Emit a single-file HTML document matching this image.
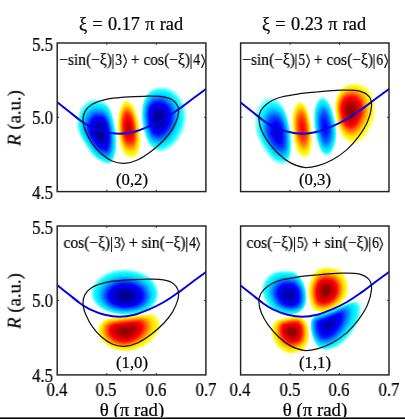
<!DOCTYPE html>
<html><head><meta charset="utf-8"><title>fig</title>
<style>
html,body{margin:0;padding:0;background:#fff;}
body{width:405px;height:419px;overflow:hidden;position:relative;font-family:"Liberation Serif",serif;color:#000;}
#fig{position:absolute;left:0;top:0;width:405px;height:419px;}
.t{position:absolute;white-space:nowrap;line-height:1;font-family:"Liberation Serif",serif;will-change:transform;-webkit-text-stroke:0.22px #000;}
.title{font-size:18.3px;word-spacing:0.7px;}
.lab{font-size:16.3px;}
.mode{font-size:16.7px;}
.tick{font-size:18px;}
.axl{font-size:18.8px;}
.ket{display:inline-block;vertical-align:-3.2px;margin:0 0 0 0.3px;}
.bar{display:inline-block;width:1.1px;height:15.5px;background:#000;vertical-align:-4px;margin:0 1.4px 0 0.5px;}
.dg{display:inline-block;transform-origin:100% 50%;transform:scaleX(0.88);margin:0 -0.1px 0 -0.2px;}
#bline{position:absolute;left:0;top:417px;width:405px;height:2px;background:linear-gradient(#6e6e6e 0,#6e6e6e 50%,#000 50%,#000 100%);}
</style></head><body>
<svg id="fig" width="405" height="419" viewBox="0 0 405 419">
<defs>
<path id="b0" d="M94.6,99.2C97.7,99.4 103.0,100.6 105.8,102.6C108.6,104.7 109.9,107.9 111.4,111.6C112.9,115.3 113.9,120.5 114.7,125.0C115.6,129.5 116.1,133.9 116.3,138.4C116.5,142.9 116.5,147.9 115.9,151.8C115.2,155.7 113.9,159.8 112.5,161.8C111.0,163.9 109.7,164.7 106.9,164.1C104.2,163.5 99.1,161.3 95.7,158.5C92.3,155.7 89.6,151.5 86.8,147.4C84.0,143.3 80.6,138.1 79.0,133.9C77.3,129.8 76.5,126.8 76.7,122.7C76.9,118.6 78.4,112.8 80.1,109.3C81.8,105.8 84.4,103.2 86.8,101.5C89.2,99.8 91.4,99.0 94.6,99.2Z"/>
<path id="b1" d="M126.2,100.3C128.3,100.3 131.6,103.0 133.6,106.0C135.5,108.9 136.9,113.6 138.0,118.2C139.2,122.9 140.0,129.1 140.3,133.9C140.7,138.8 140.9,143.6 140.3,147.3C139.8,151.1 138.5,154.4 137.0,156.3C135.5,158.1 133.5,158.7 131.4,158.5C129.3,158.3 126.5,157.4 124.6,155.1C122.8,152.9 121.3,149.0 120.2,145.1C119.0,141.1 118.3,136.1 118.0,131.6C117.6,127.2 117.5,122.5 118.0,118.2C118.5,113.9 119.5,108.9 120.9,106.0C122.3,103.0 124.1,100.3 126.2,100.3Z"/>
<path id="b2" d="M161.1,87.1C164.6,87.0 168.9,87.6 172.2,89.4C175.6,91.2 178.9,94.6 181.2,97.9C183.4,101.2 184.8,105.3 185.7,109.0C186.5,112.8 186.7,116.5 186.4,120.3C186.0,124.0 185.1,127.7 183.5,131.4C181.9,135.1 179.1,139.7 176.7,142.6C174.3,145.6 171.7,147.7 168.9,149.3C166.1,150.8 162.9,152.4 160.0,152.0C157.0,151.6 153.4,149.8 151.0,147.1C148.6,144.4 146.8,140.0 145.4,135.9C144.0,131.8 143.0,126.9 142.5,122.5C141.9,118.0 141.7,113.1 142.1,109.0C142.5,105.0 143.3,101.1 144.8,97.9C146.3,94.7 148.3,91.8 151.0,90.0C153.7,88.2 157.6,87.2 161.1,87.1Z"/>
<path id="b3" d="M270.3,97.6C272.9,97.6 275.7,98.4 278.2,100.3C280.6,102.3 283.0,105.6 284.8,109.3C286.6,113.0 287.8,117.8 288.9,122.7C289.9,127.6 290.7,133.6 291.1,138.4C291.4,143.3 291.5,147.9 291.1,151.8C290.6,155.7 289.6,159.7 288.2,161.8C286.7,164.0 285.2,164.9 282.6,164.7C280.0,164.5 275.7,163.3 272.6,160.8C269.4,158.2 266.2,153.6 263.6,149.5C261.0,145.4 258.3,140.6 256.8,136.1C255.4,131.6 254.7,127.2 254.7,122.7C254.7,118.2 255.5,113.0 256.8,109.3C258.1,105.6 260.2,102.3 262.5,100.3C264.7,98.4 267.6,97.6 270.3,97.6Z"/>
<path id="b4" d="M299.8,101.5C301.7,101.3 304.0,103.4 305.6,106.0C307.2,108.6 308.4,112.8 309.4,117.1C310.4,121.4 311.3,127.0 311.7,131.7C312.1,136.3 312.1,141.2 311.7,145.1C311.3,149.0 310.5,153.0 309.4,155.2C308.3,157.3 306.6,158.1 304.9,158.1C303.2,158.1 301.1,157.3 299.4,155.2C297.7,153.0 296.1,149.0 294.9,145.1C293.8,141.2 293.1,136.1 292.6,131.7C292.2,127.2 291.9,122.3 292.2,118.2C292.5,114.1 293.1,109.9 294.4,107.1C295.7,104.3 297.9,101.7 299.8,101.5Z"/>
<path id="b5" d="M321.7,96.9C323.8,96.3 326.6,98.7 328.4,101.3C330.3,103.9 331.7,108.4 332.9,112.5C334.1,116.5 335.3,121.4 335.8,125.9C336.4,130.3 336.7,135.2 336.2,139.3C335.7,143.4 334.2,147.8 332.9,150.5C331.6,153.2 330.1,154.9 328.4,155.4C326.7,156.0 324.6,155.8 322.8,153.9C321.1,151.9 319.2,147.7 317.9,143.8C316.6,139.8 315.7,134.8 315.0,130.3C314.3,125.9 313.8,121.2 313.9,116.9C314.0,112.6 314.3,108.0 315.6,104.7C316.9,101.3 319.5,97.4 321.7,96.9Z"/>
<path id="b6" d="M354.1,82.9C357.2,82.8 361.2,83.4 364.1,85.1C367.1,86.7 370.1,89.8 371.9,93.0C373.8,96.1 374.7,100.2 375.3,104.1C375.8,108.0 376.0,112.3 375.3,116.4C374.5,120.5 372.8,124.8 370.8,128.7C368.8,132.7 365.8,137.3 363.0,139.9C360.2,142.5 357.0,144.3 354.1,144.3C351.1,144.3 347.5,142.1 345.1,139.9C342.7,137.6 341.0,134.6 339.5,130.9C338.0,127.2 336.9,122.0 336.2,117.5C335.4,113.0 334.7,108.2 335.0,104.1C335.4,100.0 336.7,96.0 338.4,93.0C340.0,89.9 342.5,87.5 345.1,85.8C347.7,84.1 350.9,83.0 354.1,82.9Z"/>
<path id="b7" d="M123.1,269.0C127.8,269.0 133.8,269.6 138.5,271.1C143.2,272.6 148.2,275.1 151.4,278.0C154.6,280.8 156.7,284.8 157.8,288.3C158.8,291.7 158.8,295.3 157.8,298.5C156.7,301.8 154.4,305.1 151.4,307.5C148.4,309.8 144.8,311.5 139.9,312.7C135.0,313.9 127.5,314.9 121.9,314.7C116.3,314.4 110.8,313.0 106.5,311.3C102.2,309.7 98.8,307.5 96.2,304.9C93.6,302.3 91.6,299.2 91.0,295.9C90.4,292.7 90.8,288.9 92.4,285.7C93.9,282.4 97.0,279.1 100.0,276.7C103.0,274.3 106.5,272.4 110.3,271.1C114.2,269.8 118.4,269.0 123.1,269.0Z"/>
<path id="b8" d="M114.0,317.5C118.1,316.8 124.3,316.2 129.4,315.7C134.5,315.1 140.5,314.2 144.8,314.1C149.1,314.0 152.5,313.8 155.1,315.0C157.7,316.2 159.4,318.7 160.2,321.3C161.0,323.9 161.0,327.1 159.7,330.3C158.4,333.6 155.6,337.5 152.5,340.5C149.4,343.5 145.2,346.5 141.0,348.3C136.7,350.2 131.3,351.5 126.8,351.7C122.3,351.9 117.9,351.0 114.0,349.6C110.2,348.2 106.4,345.7 103.7,343.1C101.1,340.6 99.0,337.2 98.1,334.2C97.3,331.2 97.5,327.6 98.6,325.1C99.8,322.7 102.4,320.8 105.0,319.5C107.5,318.2 109.9,318.1 114.0,317.5Z"/>
<path id="b9" d="M283.0,270.5C286.9,270.5 292.1,270.6 295.4,272.5C298.8,274.4 301.3,278.2 303.1,281.8C304.9,285.4 306.0,290.1 306.2,294.2C306.5,298.3 306.2,303.2 304.7,306.4C303.1,309.7 300.3,312.2 297.0,313.5C293.6,314.8 288.7,314.8 284.6,314.1C280.5,313.5 275.7,311.9 272.3,309.6C269.0,307.3 266.4,303.7 264.6,300.3C262.8,297.0 261.5,292.9 261.5,289.5C261.5,286.0 262.8,282.4 264.6,279.6C266.4,276.8 269.3,274.1 272.3,272.5C275.4,271.0 279.2,270.5 283.0,270.5Z"/>
<path id="b10" d="M327.6,266.5C330.9,266.8 336.6,267.6 339.9,269.6C343.1,271.7 345.7,275.3 347.0,278.9C348.4,282.5 348.9,287.3 348.2,291.2C347.5,295.0 345.4,298.9 343.0,302.0C340.6,305.1 337.3,307.9 333.7,309.7C330.1,311.5 325.1,313.1 321.5,312.8C317.9,312.5 314.4,311.0 312.2,308.1C310.0,305.3 309.0,300.0 308.5,295.9C307.9,291.7 308.2,287.3 309.1,283.5C310.0,279.6 312.0,275.2 313.8,272.7C315.6,270.1 317.6,269.1 319.9,268.1C322.2,267.1 324.3,266.3 327.6,266.5Z"/>
<path id="b11" d="M281.3,318.7C284.4,317.9 290.0,316.6 293.6,316.5C297.2,316.4 300.4,316.4 302.9,318.1C305.3,319.7 307.4,323.0 308.4,326.4C309.4,329.8 309.7,334.8 309.0,338.7C308.3,342.5 307.0,346.9 304.4,349.5C301.9,352.0 297.0,353.5 293.6,354.0C290.3,354.6 287.2,353.9 284.4,352.6C281.5,351.3 278.7,348.9 276.7,346.4C274.6,343.8 272.9,340.2 272.1,337.1C271.2,334.0 271.0,330.5 271.5,327.8C272.0,325.2 273.5,322.6 275.1,321.1C276.7,319.6 278.3,319.5 281.3,318.7Z"/>
<path id="b12" d="M313.4,317.5C315.9,315.2 321.1,314.6 325.7,312.8C330.3,311.0 336.2,308.6 341.1,306.7C346.0,304.8 351.7,301.7 355.0,301.5C358.4,301.2 360.3,302.4 361.2,305.1C362.0,307.8 361.5,313.1 360.2,317.5C359.0,321.8 356.4,326.9 353.5,331.3C350.6,335.7 346.5,340.6 342.7,343.7C338.8,346.8 334.2,349.1 330.4,349.8C326.5,350.6 322.4,350.1 319.6,348.3C316.8,346.5 314.9,342.6 313.4,339.0C312.0,335.4 310.9,330.3 310.9,326.7C310.9,323.1 311.0,319.8 313.4,317.5Z"/>
<clipPath id="clip00"><rect x="0" y="0" width="149" height="148"/></clipPath>
<clipPath id="clip01"><rect x="0" y="0" width="149" height="148"/></clipPath>
<clipPath id="clip10"><rect x="0" y="0" width="149" height="148"/></clipPath>
<clipPath id="clip11"><rect x="0" y="0" width="149" height="148"/></clipPath>
</defs>
<g>
<use href="#b0" transform="matrix(1.0000 0 0 1.0000 0.00 0.00)" fill="rgb(189,255,255)"/>
<use href="#b0" transform="matrix(0.9667 0 0 0.9667 3.50 4.62)" fill="rgb(119,254,255)"/>
<use href="#b0" transform="matrix(0.9333 0 0 0.9333 6.98 9.21)" fill="rgb(61,252,255)"/>
<use href="#b0" transform="matrix(0.9000 0 0 0.9000 10.44 13.79)" fill="rgb(18,248,255)"/>
<use href="#b0" transform="matrix(0.8667 0 0 0.8667 13.88 18.34)" fill="rgb(11,239,255)"/>
<use href="#b0" transform="matrix(0.8333 0 0 0.8333 17.31 22.88)" fill="rgb(5,231,255)"/>
<use href="#b0" transform="matrix(0.8000 0 0 0.8000 20.72 27.39)" fill="rgb(0,218,255)"/>
<use href="#b0" transform="matrix(0.7667 0 0 0.7667 24.12 31.89)" fill="rgb(0,195,255)"/>
<use href="#b0" transform="matrix(0.7333 0 0 0.7333 27.50 36.37)" fill="rgb(0,171,255)"/>
<use href="#b0" transform="matrix(0.7000 0 0 0.7000 30.88 40.84)" fill="rgb(0,147,255)"/>
<use href="#b0" transform="matrix(0.6667 0 0 0.6667 34.24 45.29)" fill="rgb(0,124,255)"/>
<use href="#b0" transform="matrix(0.6333 0 0 0.6333 37.59 49.73)" fill="rgb(0,99,255)"/>
<use href="#b0" transform="matrix(0.6000 0 0 0.6000 40.93 54.16)" fill="rgb(0,73,255)"/>
<use href="#b0" transform="matrix(0.5667 0 0 0.5667 44.26 58.57)" fill="rgb(0,47,255)"/>
<use href="#b0" transform="matrix(0.5333 0 0 0.5333 47.58 62.98)" fill="rgb(0,21,255)"/>
<use href="#b0" transform="matrix(0.5000 0 0 0.5000 50.89 67.37)" fill="rgb(0,3,255)"/>
<use href="#b0" transform="matrix(0.4667 0 0 0.4667 54.20 71.76)" fill="rgb(0,0,246)"/>
<use href="#b0" transform="matrix(0.4333 0 0 0.4333 57.50 76.14)" fill="rgb(0,0,235)"/>
<use href="#b0" transform="matrix(0.4000 0 0 0.4000 60.80 80.52)" fill="rgb(0,0,223)"/>
<use href="#b0" transform="matrix(0.3667 0 0 0.3667 64.09 84.88)" fill="rgb(0,0,211)"/>
<use href="#b0" transform="matrix(0.3333 0 0 0.3333 67.37 89.24)" fill="rgb(0,0,199)"/>
<use href="#b0" transform="matrix(0.3000 0 0 0.3000 70.65 93.60)" fill="rgb(0,0,188)"/>
<use href="#b0" transform="matrix(0.2667 0 0 0.2667 73.93 97.95)" fill="rgb(0,0,179)"/>
<use href="#b0" transform="matrix(0.2333 0 0 0.2333 77.21 102.30)" fill="rgb(0,0,171)"/>
<use href="#b0" transform="matrix(0.2000 0 0 0.2000 80.48 106.65)" fill="rgb(0,0,163)"/>
<use href="#b0" transform="matrix(0.1667 0 0 0.1667 83.75 110.99)" fill="rgb(0,0,155)"/>
<use href="#b0" transform="matrix(0.1333 0 0 0.1333 87.02 115.34)" fill="rgb(0,0,149)"/>
<use href="#b0" transform="matrix(0.1000 0 0 0.1000 90.29 119.68)" fill="rgb(0,0,146)"/>
<use href="#b0" transform="matrix(0.0667 0 0 0.0667 93.56 124.02)" fill="rgb(0,0,142)"/>
<use href="#b0" transform="matrix(0.0333 0 0 0.0333 96.83 128.36)" fill="rgb(0,0,139)"/>
<use href="#b1" transform="matrix(1.0000 0 0 1.0000 0.00 0.00)" fill="rgb(255,255,189)"/>
<use href="#b1" transform="matrix(0.9667 0 0 0.9667 4.24 4.12)" fill="rgb(255,254,109)"/>
<use href="#b1" transform="matrix(0.9333 0 0 0.9333 8.48 8.25)" fill="rgb(255,251,47)"/>
<use href="#b1" transform="matrix(0.9000 0 0 0.9000 12.73 12.40)" fill="rgb(255,246,17)"/>
<use href="#b1" transform="matrix(0.8667 0 0 0.8667 16.98 16.57)" fill="rgb(255,238,10)"/>
<use href="#b1" transform="matrix(0.8333 0 0 0.8333 21.24 20.76)" fill="rgb(255,230,4)"/>
<use href="#b1" transform="matrix(0.8000 0 0 0.8000 25.50 24.96)" fill="rgb(255,218,0)"/>
<use href="#b1" transform="matrix(0.7667 0 0 0.7667 29.77 29.18)" fill="rgb(255,197,0)"/>
<use href="#b1" transform="matrix(0.7333 0 0 0.7333 34.04 33.41)" fill="rgb(255,177,0)"/>
<use href="#b1" transform="matrix(0.7000 0 0 0.7000 38.31 37.65)" fill="rgb(255,156,0)"/>
<use href="#b1" transform="matrix(0.6667 0 0 0.6667 42.59 41.91)" fill="rgb(255,137,0)"/>
<use href="#b1" transform="matrix(0.6333 0 0 0.6333 46.87 46.18)" fill="rgb(255,118,0)"/>
<use href="#b1" transform="matrix(0.6000 0 0 0.6000 51.15 50.45)" fill="rgb(255,97,0)"/>
<use href="#b1" transform="matrix(0.5667 0 0 0.5667 55.44 54.74)" fill="rgb(255,75,0)"/>
<use href="#b1" transform="matrix(0.5333 0 0 0.5333 59.73 59.03)" fill="rgb(255,54,0)"/>
<use href="#b1" transform="matrix(0.5000 0 0 0.5000 64.02 63.34)" fill="rgb(255,39,0)"/>
<use href="#b1" transform="matrix(0.4667 0 0 0.4667 68.31 67.65)" fill="rgb(255,29,0)"/>
<use href="#b1" transform="matrix(0.4333 0 0 0.4333 72.60 71.96)" fill="rgb(255,19,0)"/>
<use href="#b1" transform="matrix(0.4000 0 0 0.4000 76.89 76.29)" fill="rgb(255,9,0)"/>
<use href="#b1" transform="matrix(0.3667 0 0 0.3667 81.19 80.61)" fill="rgb(254,0,0)"/>
<use href="#b1" transform="matrix(0.3333 0 0 0.3333 85.49 84.95)" fill="rgb(244,0,0)"/>
<use href="#b1" transform="matrix(0.3000 0 0 0.3000 89.79 89.28)" fill="rgb(235,0,0)"/>
<use href="#b1" transform="matrix(0.2667 0 0 0.2667 94.09 93.62)" fill="rgb(228,0,0)"/>
<use href="#b1" transform="matrix(0.2333 0 0 0.2333 98.39 97.96)" fill="rgb(221,0,0)"/>
<use href="#b1" transform="matrix(0.2000 0 0 0.2000 102.69 102.31)" fill="rgb(215,0,0)"/>
<use href="#b1" transform="matrix(0.1667 0 0 0.1667 106.99 106.65)" fill="rgb(208,0,0)"/>
<use href="#b1" transform="matrix(0.1333 0 0 0.1333 111.29 111.00)" fill="rgb(204,0,0)"/>
<use href="#b1" transform="matrix(0.1000 0 0 0.1000 115.59 115.35)" fill="rgb(201,0,0)"/>
<use href="#b1" transform="matrix(0.0667 0 0 0.0667 119.90 119.70)" fill="rgb(198,0,0)"/>
<use href="#b1" transform="matrix(0.0333 0 0 0.0333 124.20 124.05)" fill="rgb(195,0,0)"/>
<use href="#b2" transform="matrix(1.0000 0 0 1.0000 0.00 0.00)" fill="rgb(189,255,255)"/>
<use href="#b2" transform="matrix(0.9667 0 0 0.9667 4.95 3.90)" fill="rgb(131,255,255)"/>
<use href="#b2" transform="matrix(0.9333 0 0 0.9333 9.94 7.81)" fill="rgb(82,253,255)"/>
<use href="#b2" transform="matrix(0.9000 0 0 0.9000 14.97 11.72)" fill="rgb(24,250,255)"/>
<use href="#b2" transform="matrix(0.8667 0 0 0.8667 20.04 15.64)" fill="rgb(14,243,255)"/>
<use href="#b2" transform="matrix(0.8333 0 0 0.8333 25.14 19.55)" fill="rgb(8,235,255)"/>
<use href="#b2" transform="matrix(0.8000 0 0 0.8000 30.28 23.47)" fill="rgb(1,226,255)"/>
<use href="#b2" transform="matrix(0.7667 0 0 0.7667 35.44 27.39)" fill="rgb(0,204,255)"/>
<use href="#b2" transform="matrix(0.7333 0 0 0.7333 40.64 31.32)" fill="rgb(0,181,255)"/>
<use href="#b2" transform="matrix(0.7000 0 0 0.7000 45.86 35.24)" fill="rgb(0,157,255)"/>
<use href="#b2" transform="matrix(0.6667 0 0 0.6667 51.11 39.17)" fill="rgb(0,134,255)"/>
<use href="#b2" transform="matrix(0.6333 0 0 0.6333 56.38 43.10)" fill="rgb(0,110,255)"/>
<use href="#b2" transform="matrix(0.6000 0 0 0.6000 61.67 47.04)" fill="rgb(0,84,255)"/>
<use href="#b2" transform="matrix(0.5667 0 0 0.5667 66.99 50.97)" fill="rgb(0,57,255)"/>
<use href="#b2" transform="matrix(0.5333 0 0 0.5333 72.32 54.91)" fill="rgb(0,30,255)"/>
<use href="#b2" transform="matrix(0.5000 0 0 0.5000 77.67 58.84)" fill="rgb(0,11,255)"/>
<use href="#b2" transform="matrix(0.4667 0 0 0.4667 83.03 62.78)" fill="rgb(0,0,253)"/>
<use href="#b2" transform="matrix(0.4333 0 0 0.4333 88.41 66.72)" fill="rgb(0,0,241)"/>
<use href="#b2" transform="matrix(0.4000 0 0 0.4000 93.80 70.66)" fill="rgb(0,0,229)"/>
<use href="#b2" transform="matrix(0.3667 0 0 0.3667 99.20 74.61)" fill="rgb(0,0,216)"/>
<use href="#b2" transform="matrix(0.3333 0 0 0.3333 104.61 78.55)" fill="rgb(0,0,204)"/>
<use href="#b2" transform="matrix(0.3000 0 0 0.3000 110.03 82.49)" fill="rgb(0,0,191)"/>
<use href="#b2" transform="matrix(0.2667 0 0 0.2667 115.46 86.44)" fill="rgb(0,0,182)"/>
<use href="#b2" transform="matrix(0.2333 0 0 0.2333 120.89 90.38)" fill="rgb(0,0,174)"/>
<use href="#b2" transform="matrix(0.2000 0 0 0.2000 126.32 94.33)" fill="rgb(0,0,165)"/>
<use href="#b2" transform="matrix(0.1667 0 0 0.1667 131.77 98.27)" fill="rgb(0,0,156)"/>
<use href="#b2" transform="matrix(0.1333 0 0 0.1333 137.21 102.22)" fill="rgb(0,0,150)"/>
<use href="#b2" transform="matrix(0.1000 0 0 0.1000 142.66 106.16)" fill="rgb(0,0,146)"/>
<use href="#b2" transform="matrix(0.0667 0 0 0.0667 148.10 110.11)" fill="rgb(0,0,143)"/>
<use href="#b2" transform="matrix(0.0333 0 0 0.0333 153.55 114.05)" fill="rgb(0,0,139)"/>
<use href="#b3" transform="matrix(1.0000 0 0 1.0000 0.00 0.00)" fill="rgb(189,255,255)"/>
<use href="#b3" transform="matrix(0.9667 0 0 0.9667 9.47 4.60)" fill="rgb(158,255,255)"/>
<use href="#b3" transform="matrix(0.9333 0 0 0.9333 18.91 9.18)" fill="rgb(122,254,255)"/>
<use href="#b3" transform="matrix(0.9000 0 0 0.9000 28.33 13.73)" fill="rgb(84,253,255)"/>
<use href="#b3" transform="matrix(0.8667 0 0 0.8667 37.72 18.27)" fill="rgb(34,251,255)"/>
<use href="#b3" transform="matrix(0.8333 0 0 0.8333 47.09 22.79)" fill="rgb(17,246,255)"/>
<use href="#b3" transform="matrix(0.8000 0 0 0.8000 56.43 27.30)" fill="rgb(11,239,255)"/>
<use href="#b3" transform="matrix(0.7667 0 0 0.7667 65.75 31.79)" fill="rgb(3,229,255)"/>
<use href="#b3" transform="matrix(0.7333 0 0 0.7333 75.05 36.27)" fill="rgb(0,214,255)"/>
<use href="#b3" transform="matrix(0.7000 0 0 0.7000 84.34 40.73)" fill="rgb(0,193,255)"/>
<use href="#b3" transform="matrix(0.6667 0 0 0.6667 93.60 45.18)" fill="rgb(0,174,255)"/>
<use href="#b3" transform="matrix(0.6333 0 0 0.6333 102.85 49.62)" fill="rgb(0,157,255)"/>
<use href="#b3" transform="matrix(0.6000 0 0 0.6000 112.09 54.04)" fill="rgb(0,139,255)"/>
<use href="#b3" transform="matrix(0.5667 0 0 0.5667 121.31 58.46)" fill="rgb(0,118,255)"/>
<use href="#b3" transform="matrix(0.5333 0 0 0.5333 130.52 62.87)" fill="rgb(0,94,255)"/>
<use href="#b3" transform="matrix(0.5000 0 0 0.5000 139.71 67.27)" fill="rgb(0,76,255)"/>
<use href="#b3" transform="matrix(0.4667 0 0 0.4667 148.90 71.66)" fill="rgb(0,64,255)"/>
<use href="#b3" transform="matrix(0.4333 0 0 0.4333 158.08 76.04)" fill="rgb(0,52,255)"/>
<use href="#b3" transform="matrix(0.4000 0 0 0.4000 167.24 80.42)" fill="rgb(0,39,255)"/>
<use href="#b3" transform="matrix(0.3667 0 0 0.3667 176.40 84.79)" fill="rgb(0,27,255)"/>
<use href="#b3" transform="matrix(0.3333 0 0 0.3333 185.56 89.16)" fill="rgb(0,14,255)"/>
<use href="#b3" transform="matrix(0.3000 0 0 0.3000 194.71 93.52)" fill="rgb(0,1,255)"/>
<use href="#b3" transform="matrix(0.2667 0 0 0.2667 203.85 97.88)" fill="rgb(0,0,248)"/>
<use href="#b3" transform="matrix(0.2333 0 0 0.2333 212.99 102.24)" fill="rgb(0,0,240)"/>
<use href="#b3" transform="matrix(0.2000 0 0 0.2000 222.12 106.60)" fill="rgb(0,0,231)"/>
<use href="#b3" transform="matrix(0.1667 0 0 0.1667 231.26 110.95)" fill="rgb(0,0,223)"/>
<use href="#b3" transform="matrix(0.1333 0 0 0.1333 240.39 115.30)" fill="rgb(0,0,217)"/>
<use href="#b3" transform="matrix(0.1000 0 0 0.1000 249.52 119.65)" fill="rgb(0,0,213)"/>
<use href="#b3" transform="matrix(0.0667 0 0 0.0667 258.64 124.00)" fill="rgb(0,0,210)"/>
<use href="#b3" transform="matrix(0.0333 0 0 0.0333 267.77 128.35)" fill="rgb(0,0,206)"/>
<use href="#b4" transform="matrix(1.0000 0 0 1.0000 0.00 0.00)" fill="rgb(255,255,189)"/>
<use href="#b4" transform="matrix(0.9667 0 0 0.9667 10.10 4.14)" fill="rgb(255,254,118)"/>
<use href="#b4" transform="matrix(0.9333 0 0 0.9333 20.19 8.29)" fill="rgb(255,252,66)"/>
<use href="#b4" transform="matrix(0.9000 0 0 0.9000 30.28 12.46)" fill="rgb(255,249,19)"/>
<use href="#b4" transform="matrix(0.8667 0 0 0.8667 40.37 16.65)" fill="rgb(255,242,14)"/>
<use href="#b4" transform="matrix(0.8333 0 0 0.8333 50.45 20.85)" fill="rgb(255,236,9)"/>
<use href="#b4" transform="matrix(0.8000 0 0 0.8000 60.54 25.06)" fill="rgb(255,228,3)"/>
<use href="#b4" transform="matrix(0.7667 0 0 0.7667 70.62 29.28)" fill="rgb(255,214,0)"/>
<use href="#b4" transform="matrix(0.7333 0 0 0.7333 80.71 33.52)" fill="rgb(255,196,0)"/>
<use href="#b4" transform="matrix(0.7000 0 0 0.7000 90.79 37.77)" fill="rgb(255,179,0)"/>
<use href="#b4" transform="matrix(0.6667 0 0 0.6667 100.87 42.03)" fill="rgb(255,163,0)"/>
<use href="#b4" transform="matrix(0.6333 0 0 0.6333 110.94 46.30)" fill="rgb(255,149,0)"/>
<use href="#b4" transform="matrix(0.6000 0 0 0.6000 121.02 50.57)" fill="rgb(255,135,0)"/>
<use href="#b4" transform="matrix(0.5667 0 0 0.5667 131.10 54.86)" fill="rgb(255,119,0)"/>
<use href="#b4" transform="matrix(0.5333 0 0 0.5333 141.17 59.15)" fill="rgb(255,101,0)"/>
<use href="#b4" transform="matrix(0.5000 0 0 0.5000 151.25 63.45)" fill="rgb(255,89,0)"/>
<use href="#b4" transform="matrix(0.4667 0 0 0.4667 161.32 67.76)" fill="rgb(255,80,0)"/>
<use href="#b4" transform="matrix(0.4333 0 0 0.4333 171.39 72.07)" fill="rgb(255,72,0)"/>
<use href="#b4" transform="matrix(0.4000 0 0 0.4000 181.46 76.39)" fill="rgb(255,63,0)"/>
<use href="#b4" transform="matrix(0.3667 0 0 0.3667 191.54 80.71)" fill="rgb(255,55,0)"/>
<use href="#b4" transform="matrix(0.3333 0 0 0.3333 201.61 85.03)" fill="rgb(255,46,0)"/>
<use href="#b4" transform="matrix(0.3000 0 0 0.3000 211.68 89.36)" fill="rgb(255,38,0)"/>
<use href="#b4" transform="matrix(0.2667 0 0 0.2667 221.75 93.69)" fill="rgb(255,32,0)"/>
<use href="#b4" transform="matrix(0.2333 0 0 0.2333 231.82 98.03)" fill="rgb(255,26,0)"/>
<use href="#b4" transform="matrix(0.2000 0 0 0.2000 241.89 102.36)" fill="rgb(255,20,0)"/>
<use href="#b4" transform="matrix(0.1667 0 0 0.1667 251.96 106.70)" fill="rgb(255,14,0)"/>
<use href="#b4" transform="matrix(0.1333 0 0 0.1333 262.02 111.04)" fill="rgb(255,10,0)"/>
<use href="#b4" transform="matrix(0.1000 0 0 0.1000 272.09 115.38)" fill="rgb(255,8,0)"/>
<use href="#b4" transform="matrix(0.0667 0 0 0.0667 282.16 119.72)" fill="rgb(255,5,0)"/>
<use href="#b4" transform="matrix(0.0333 0 0 0.0333 292.23 124.06)" fill="rgb(255,3,0)"/>
<use href="#b5" transform="matrix(1.0000 0 0 1.0000 0.00 0.00)" fill="rgb(189,255,255)"/>
<use href="#b5" transform="matrix(0.9667 0 0 0.9667 10.83 4.27)" fill="rgb(118,254,255)"/>
<use href="#b5" transform="matrix(0.9333 0 0 0.9333 21.66 8.54)" fill="rgb(66,252,255)"/>
<use href="#b5" transform="matrix(0.9000 0 0 0.9000 32.49 12.80)" fill="rgb(19,249,255)"/>
<use href="#b5" transform="matrix(0.8667 0 0 0.8667 43.33 17.06)" fill="rgb(14,242,255)"/>
<use href="#b5" transform="matrix(0.8333 0 0 0.8333 54.16 21.31)" fill="rgb(9,236,255)"/>
<use href="#b5" transform="matrix(0.8000 0 0 0.8000 64.99 25.56)" fill="rgb(3,228,255)"/>
<use href="#b5" transform="matrix(0.7667 0 0 0.7667 75.82 29.81)" fill="rgb(0,214,255)"/>
<use href="#b5" transform="matrix(0.7333 0 0 0.7333 86.65 34.05)" fill="rgb(0,196,255)"/>
<use href="#b5" transform="matrix(0.7000 0 0 0.7000 97.49 38.29)" fill="rgb(0,179,255)"/>
<use href="#b5" transform="matrix(0.6667 0 0 0.6667 108.32 42.53)" fill="rgb(0,163,255)"/>
<use href="#b5" transform="matrix(0.6333 0 0 0.6333 119.15 46.77)" fill="rgb(0,149,255)"/>
<use href="#b5" transform="matrix(0.6000 0 0 0.6000 129.99 51.00)" fill="rgb(0,135,255)"/>
<use href="#b5" transform="matrix(0.5667 0 0 0.5667 140.82 55.24)" fill="rgb(0,119,255)"/>
<use href="#b5" transform="matrix(0.5333 0 0 0.5333 151.65 59.47)" fill="rgb(0,101,255)"/>
<use href="#b5" transform="matrix(0.5000 0 0 0.5000 162.49 63.69)" fill="rgb(0,89,255)"/>
<use href="#b5" transform="matrix(0.4667 0 0 0.4667 173.32 67.92)" fill="rgb(0,80,255)"/>
<use href="#b5" transform="matrix(0.4333 0 0 0.4333 184.15 72.15)" fill="rgb(0,72,255)"/>
<use href="#b5" transform="matrix(0.4000 0 0 0.4000 194.99 76.37)" fill="rgb(0,63,255)"/>
<use href="#b5" transform="matrix(0.3667 0 0 0.3667 205.82 80.59)" fill="rgb(0,55,255)"/>
<use href="#b5" transform="matrix(0.3333 0 0 0.3333 216.66 84.81)" fill="rgb(0,46,255)"/>
<use href="#b5" transform="matrix(0.3000 0 0 0.3000 227.49 89.03)" fill="rgb(0,38,255)"/>
<use href="#b5" transform="matrix(0.2667 0 0 0.2667 238.33 93.25)" fill="rgb(0,32,255)"/>
<use href="#b5" transform="matrix(0.2333 0 0 0.2333 249.16 97.47)" fill="rgb(0,26,255)"/>
<use href="#b5" transform="matrix(0.2000 0 0 0.2000 259.99 101.69)" fill="rgb(0,20,255)"/>
<use href="#b5" transform="matrix(0.1667 0 0 0.1667 270.83 105.91)" fill="rgb(0,14,255)"/>
<use href="#b5" transform="matrix(0.1333 0 0 0.1333 281.66 110.13)" fill="rgb(0,10,255)"/>
<use href="#b5" transform="matrix(0.1000 0 0 0.1000 292.50 114.35)" fill="rgb(0,8,255)"/>
<use href="#b5" transform="matrix(0.0667 0 0 0.0667 303.33 118.56)" fill="rgb(0,5,255)"/>
<use href="#b5" transform="matrix(0.0333 0 0 0.0333 314.17 122.78)" fill="rgb(0,3,255)"/>
<use href="#b6" transform="matrix(1.0000 0 0 1.0000 0.00 0.00)" fill="rgb(255,255,189)"/>
<use href="#b6" transform="matrix(0.9667 0 0 0.9667 11.37 3.60)" fill="rgb(255,255,134)"/>
<use href="#b6" transform="matrix(0.9333 0 0 0.9333 22.77 7.20)" fill="rgb(255,253,86)"/>
<use href="#b6" transform="matrix(0.9000 0 0 0.9000 34.22 10.82)" fill="rgb(255,250,30)"/>
<use href="#b6" transform="matrix(0.8667 0 0 0.8667 45.69 14.45)" fill="rgb(255,244,15)"/>
<use href="#b6" transform="matrix(0.8333 0 0 0.8333 57.20 18.09)" fill="rgb(255,236,9)"/>
<use href="#b6" transform="matrix(0.8000 0 0 0.8000 68.75 21.74)" fill="rgb(255,227,2)"/>
<use href="#b6" transform="matrix(0.7667 0 0 0.7667 80.32 25.40)" fill="rgb(255,206,0)"/>
<use href="#b6" transform="matrix(0.7333 0 0 0.7333 91.92 29.06)" fill="rgb(255,183,0)"/>
<use href="#b6" transform="matrix(0.7000 0 0 0.7000 103.54 32.74)" fill="rgb(255,159,0)"/>
<use href="#b6" transform="matrix(0.6667 0 0 0.6667 115.19 36.42)" fill="rgb(255,136,0)"/>
<use href="#b6" transform="matrix(0.6333 0 0 0.6333 126.86 40.11)" fill="rgb(255,113,0)"/>
<use href="#b6" transform="matrix(0.6000 0 0 0.6000 138.55 43.80)" fill="rgb(255,87,0)"/>
<use href="#b6" transform="matrix(0.5667 0 0 0.5667 150.26 47.50)" fill="rgb(255,60,0)"/>
<use href="#b6" transform="matrix(0.5333 0 0 0.5333 161.98 51.21)" fill="rgb(255,32,0)"/>
<use href="#b6" transform="matrix(0.5000 0 0 0.5000 173.72 54.92)" fill="rgb(255,13,0)"/>
<use href="#b6" transform="matrix(0.4667 0 0 0.4667 185.48 58.64)" fill="rgb(255,0,0)"/>
<use href="#b6" transform="matrix(0.4333 0 0 0.4333 197.25 62.35)" fill="rgb(243,0,0)"/>
<use href="#b6" transform="matrix(0.4000 0 0 0.4000 209.03 66.08)" fill="rgb(230,0,0)"/>
<use href="#b6" transform="matrix(0.3667 0 0 0.3667 220.82 69.80)" fill="rgb(217,0,0)"/>
<use href="#b6" transform="matrix(0.3333 0 0 0.3333 232.63 73.53)" fill="rgb(205,0,0)"/>
<use href="#b6" transform="matrix(0.3000 0 0 0.3000 244.43 77.26)" fill="rgb(192,0,0)"/>
<use href="#b6" transform="matrix(0.2667 0 0 0.2667 256.25 81.00)" fill="rgb(183,0,0)"/>
<use href="#b6" transform="matrix(0.2333 0 0 0.2333 268.07 84.73)" fill="rgb(174,0,0)"/>
<use href="#b6" transform="matrix(0.2000 0 0 0.2000 279.90 88.47)" fill="rgb(166,0,0)"/>
<use href="#b6" transform="matrix(0.1667 0 0 0.1667 291.73 92.20)" fill="rgb(157,0,0)"/>
<use href="#b6" transform="matrix(0.1333 0 0 0.1333 303.56 95.94)" fill="rgb(150,0,0)"/>
<use href="#b6" transform="matrix(0.1000 0 0 0.1000 315.39 99.68)" fill="rgb(146,0,0)"/>
<use href="#b6" transform="matrix(0.0667 0 0 0.0667 327.23 103.42)" fill="rgb(143,0,0)"/>
<use href="#b6" transform="matrix(0.0333 0 0 0.0333 339.06 107.16)" fill="rgb(139,0,0)"/>
<use href="#b7" transform="matrix(1.0000 0 0 1.0000 0.00 0.00)" fill="rgb(189,255,255)"/>
<use href="#b7" transform="matrix(0.9667 0 0 0.9667 4.26 10.15)" fill="rgb(116,254,255)"/>
<use href="#b7" transform="matrix(0.9333 0 0 0.9333 8.51 20.27)" fill="rgb(56,251,255)"/>
<use href="#b7" transform="matrix(0.9000 0 0 0.9000 12.76 30.35)" fill="rgb(17,247,255)"/>
<use href="#b7" transform="matrix(0.8667 0 0 0.8667 17.00 40.40)" fill="rgb(11,238,255)"/>
<use href="#b7" transform="matrix(0.8333 0 0 0.8333 21.23 50.43)" fill="rgb(4,230,255)"/>
<use href="#b7" transform="matrix(0.8000 0 0 0.8000 25.45 60.42)" fill="rgb(0,216,255)"/>
<use href="#b7" transform="matrix(0.7667 0 0 0.7667 29.67 70.40)" fill="rgb(0,193,255)"/>
<use href="#b7" transform="matrix(0.7333 0 0 0.7333 33.88 80.34)" fill="rgb(0,169,255)"/>
<use href="#b7" transform="matrix(0.7000 0 0 0.7000 38.08 90.27)" fill="rgb(0,145,255)"/>
<use href="#b7" transform="matrix(0.6667 0 0 0.6667 42.28 100.17)" fill="rgb(0,121,255)"/>
<use href="#b7" transform="matrix(0.6333 0 0 0.6333 46.48 110.05)" fill="rgb(0,96,255)"/>
<use href="#b7" transform="matrix(0.6000 0 0 0.6000 50.67 119.92)" fill="rgb(0,70,255)"/>
<use href="#b7" transform="matrix(0.5667 0 0 0.5667 54.86 129.77)" fill="rgb(0,45,255)"/>
<use href="#b7" transform="matrix(0.5333 0 0 0.5333 59.04 139.60)" fill="rgb(0,19,255)"/>
<use href="#b7" transform="matrix(0.5000 0 0 0.5000 63.22 149.42)" fill="rgb(0,1,255)"/>
<use href="#b7" transform="matrix(0.4667 0 0 0.4667 67.40 159.23)" fill="rgb(0,0,245)"/>
<use href="#b7" transform="matrix(0.4333 0 0 0.4333 71.57 169.02)" fill="rgb(0,0,233)"/>
<use href="#b7" transform="matrix(0.4000 0 0 0.4000 75.74 178.81)" fill="rgb(0,0,222)"/>
<use href="#b7" transform="matrix(0.3667 0 0 0.3667 79.91 188.58)" fill="rgb(0,0,210)"/>
<use href="#b7" transform="matrix(0.3333 0 0 0.3333 84.08 198.35)" fill="rgb(0,0,198)"/>
<use href="#b7" transform="matrix(0.3000 0 0 0.3000 88.25 208.11)" fill="rgb(0,0,187)"/>
<use href="#b7" transform="matrix(0.2667 0 0 0.2667 92.41 217.87)" fill="rgb(0,0,179)"/>
<use href="#b7" transform="matrix(0.2333 0 0 0.2333 96.58 227.62)" fill="rgb(0,0,171)"/>
<use href="#b7" transform="matrix(0.2000 0 0 0.2000 100.74 237.37)" fill="rgb(0,0,163)"/>
<use href="#b7" transform="matrix(0.1667 0 0 0.1667 104.90 247.11)" fill="rgb(0,0,155)"/>
<use href="#b7" transform="matrix(0.1333 0 0 0.1333 109.06 256.85)" fill="rgb(0,0,149)"/>
<use href="#b7" transform="matrix(0.1000 0 0 0.1000 113.22 266.59)" fill="rgb(0,0,145)"/>
<use href="#b7" transform="matrix(0.0667 0 0 0.0667 117.38 276.33)" fill="rgb(0,0,142)"/>
<use href="#b7" transform="matrix(0.0333 0 0 0.0333 121.54 286.06)" fill="rgb(0,0,138)"/>
<use href="#b8" transform="matrix(1.0000 0 0 1.0000 0.00 0.00)" fill="rgb(255,255,189)"/>
<use href="#b8" transform="matrix(0.9667 0 0 0.9667 3.91 10.99)" fill="rgb(255,253,100)"/>
<use href="#b8" transform="matrix(0.9333 0 0 0.9333 7.86 21.98)" fill="rgb(255,250,29)"/>
<use href="#b8" transform="matrix(0.9000 0 0 0.9000 11.84 32.99)" fill="rgb(255,243,14)"/>
<use href="#b8" transform="matrix(0.8667 0 0 0.8667 15.84 43.99)" fill="rgb(255,234,7)"/>
<use href="#b8" transform="matrix(0.8333 0 0 0.8333 19.88 55.00)" fill="rgb(255,225,0)"/>
<use href="#b8" transform="matrix(0.8000 0 0 0.8000 23.94 66.02)" fill="rgb(255,206,0)"/>
<use href="#b8" transform="matrix(0.7667 0 0 0.7667 28.02 77.03)" fill="rgb(255,182,0)"/>
<use href="#b8" transform="matrix(0.7333 0 0 0.7333 32.13 88.06)" fill="rgb(255,158,0)"/>
<use href="#b8" transform="matrix(0.7000 0 0 0.7000 36.26 99.08)" fill="rgb(255,135,0)"/>
<use href="#b8" transform="matrix(0.6667 0 0 0.6667 40.41 110.11)" fill="rgb(255,108,0)"/>
<use href="#b8" transform="matrix(0.6333 0 0 0.6333 44.57 121.15)" fill="rgb(255,83,0)"/>
<use href="#b8" transform="matrix(0.6000 0 0 0.6000 48.76 132.18)" fill="rgb(255,59,0)"/>
<use href="#b8" transform="matrix(0.5667 0 0 0.5667 52.96 143.22)" fill="rgb(255,34,0)"/>
<use href="#b8" transform="matrix(0.5333 0 0 0.5333 57.17 154.26)" fill="rgb(255,10,0)"/>
<use href="#b8" transform="matrix(0.5000 0 0 0.5000 61.40 165.30)" fill="rgb(248,0,0)"/>
<use href="#b8" transform="matrix(0.4667 0 0 0.4667 65.64 176.35)" fill="rgb(238,0,0)"/>
<use href="#b8" transform="matrix(0.4333 0 0 0.4333 69.89 187.40)" fill="rgb(227,0,0)"/>
<use href="#b8" transform="matrix(0.4000 0 0 0.4000 74.16 198.44)" fill="rgb(216,0,0)"/>
<use href="#b8" transform="matrix(0.3667 0 0 0.3667 78.43 209.50)" fill="rgb(205,0,0)"/>
<use href="#b8" transform="matrix(0.3333 0 0 0.3333 82.70 220.55)" fill="rgb(194,0,0)"/>
<use href="#b8" transform="matrix(0.3000 0 0 0.3000 86.99 231.60)" fill="rgb(183,0,0)"/>
<use href="#b8" transform="matrix(0.2667 0 0 0.2667 91.28 242.65)" fill="rgb(176,0,0)"/>
<use href="#b8" transform="matrix(0.2333 0 0 0.2333 95.57 253.71)" fill="rgb(168,0,0)"/>
<use href="#b8" transform="matrix(0.2000 0 0 0.2000 99.87 264.76)" fill="rgb(161,0,0)"/>
<use href="#b8" transform="matrix(0.1667 0 0 0.1667 104.17 275.82)" fill="rgb(153,0,0)"/>
<use href="#b8" transform="matrix(0.1333 0 0 0.1333 108.47 286.87)" fill="rgb(148,0,0)"/>
<use href="#b8" transform="matrix(0.1000 0 0 0.1000 112.78 297.93)" fill="rgb(145,0,0)"/>
<use href="#b8" transform="matrix(0.0667 0 0 0.0667 117.09 308.99)" fill="rgb(141,0,0)"/>
<use href="#b8" transform="matrix(0.0333 0 0 0.0333 121.39 320.04)" fill="rgb(138,0,0)"/>
<use href="#b9" transform="matrix(1.0000 0 0 1.0000 0.00 0.00)" fill="rgb(189,255,255)"/>
<use href="#b9" transform="matrix(0.9667 0 0 0.9667 9.99 10.04)" fill="rgb(103,253,255)"/>
<use href="#b9" transform="matrix(0.9333 0 0 0.9333 19.93 20.06)" fill="rgb(37,251,255)"/>
<use href="#b9" transform="matrix(0.9000 0 0 0.9000 29.84 30.05)" fill="rgb(15,244,255)"/>
<use href="#b9" transform="matrix(0.8667 0 0 0.8667 39.71 40.02)" fill="rgb(9,236,255)"/>
<use href="#b9" transform="matrix(0.8333 0 0 0.8333 49.55 49.97)" fill="rgb(2,227,255)"/>
<use href="#b9" transform="matrix(0.8000 0 0 0.8000 59.35 59.91)" fill="rgb(0,211,255)"/>
<use href="#b9" transform="matrix(0.7667 0 0 0.7667 69.12 69.82)" fill="rgb(0,189,255)"/>
<use href="#b9" transform="matrix(0.7333 0 0 0.7333 78.86 79.71)" fill="rgb(0,166,255)"/>
<use href="#b9" transform="matrix(0.7000 0 0 0.7000 88.58 89.59)" fill="rgb(0,143,255)"/>
<use href="#b9" transform="matrix(0.6667 0 0 0.6667 98.27 99.46)" fill="rgb(0,121,255)"/>
<use href="#b9" transform="matrix(0.6333 0 0 0.6333 107.93 109.31)" fill="rgb(0,98,255)"/>
<use href="#b9" transform="matrix(0.6000 0 0 0.6000 117.57 119.15)" fill="rgb(0,75,255)"/>
<use href="#b9" transform="matrix(0.5667 0 0 0.5667 127.20 128.97)" fill="rgb(0,51,255)"/>
<use href="#b9" transform="matrix(0.5333 0 0 0.5333 136.80 138.79)" fill="rgb(0,28,255)"/>
<use href="#b9" transform="matrix(0.5000 0 0 0.5000 146.39 148.59)" fill="rgb(0,12,255)"/>
<use href="#b9" transform="matrix(0.4667 0 0 0.4667 155.96 158.39)" fill="rgb(0,1,255)"/>
<use href="#b9" transform="matrix(0.4333 0 0 0.4333 165.52 168.17)" fill="rgb(0,0,246)"/>
<use href="#b9" transform="matrix(0.4000 0 0 0.4000 175.07 177.95)" fill="rgb(0,0,235)"/>
<use href="#b9" transform="matrix(0.3667 0 0 0.3667 184.60 187.73)" fill="rgb(0,0,225)"/>
<use href="#b9" transform="matrix(0.3333 0 0 0.3333 194.13 197.49)" fill="rgb(0,0,215)"/>
<use href="#b9" transform="matrix(0.3000 0 0 0.3000 203.65 207.26)" fill="rgb(0,0,204)"/>
<use href="#b9" transform="matrix(0.2667 0 0 0.2667 213.16 217.01)" fill="rgb(0,0,197)"/>
<use href="#b9" transform="matrix(0.2333 0 0 0.2333 222.66 226.77)" fill="rgb(0,0,190)"/>
<use href="#b9" transform="matrix(0.2000 0 0 0.2000 232.16 236.52)" fill="rgb(0,0,183)"/>
<use href="#b9" transform="matrix(0.1667 0 0 0.1667 241.65 246.27)" fill="rgb(0,0,176)"/>
<use href="#b9" transform="matrix(0.1333 0 0 0.1333 251.15 256.02)" fill="rgb(0,0,171)"/>
<use href="#b9" transform="matrix(0.1000 0 0 0.1000 260.64 265.76)" fill="rgb(0,0,168)"/>
<use href="#b9" transform="matrix(0.0667 0 0 0.0667 270.12 275.51)" fill="rgb(0,0,165)"/>
<use href="#b9" transform="matrix(0.0333 0 0 0.0333 279.61 285.25)" fill="rgb(0,0,162)"/>
<use href="#b10" transform="matrix(1.0000 0 0 1.0000 0.00 0.00)" fill="rgb(255,255,189)"/>
<use href="#b10" transform="matrix(0.9667 0 0 0.9667 10.75 9.85)" fill="rgb(255,253,100)"/>
<use href="#b10" transform="matrix(0.9333 0 0 0.9333 21.52 19.68)" fill="rgb(255,250,29)"/>
<use href="#b10" transform="matrix(0.9000 0 0 0.9000 32.30 29.50)" fill="rgb(255,243,14)"/>
<use href="#b10" transform="matrix(0.8667 0 0 0.8667 43.10 39.30)" fill="rgb(255,234,7)"/>
<use href="#b10" transform="matrix(0.8333 0 0 0.8333 53.90 49.08)" fill="rgb(255,225,0)"/>
<use href="#b10" transform="matrix(0.8000 0 0 0.8000 64.72 58.86)" fill="rgb(255,206,0)"/>
<use href="#b10" transform="matrix(0.7667 0 0 0.7667 75.54 68.62)" fill="rgb(255,182,0)"/>
<use href="#b10" transform="matrix(0.7333 0 0 0.7333 86.38 78.36)" fill="rgb(255,158,0)"/>
<use href="#b10" transform="matrix(0.7000 0 0 0.7000 97.22 88.10)" fill="rgb(255,135,0)"/>
<use href="#b10" transform="matrix(0.6667 0 0 0.6667 108.08 97.82)" fill="rgb(255,108,0)"/>
<use href="#b10" transform="matrix(0.6333 0 0 0.6333 118.94 107.54)" fill="rgb(255,83,0)"/>
<use href="#b10" transform="matrix(0.6000 0 0 0.6000 129.81 117.25)" fill="rgb(255,59,0)"/>
<use href="#b10" transform="matrix(0.5667 0 0 0.5667 140.68 126.94)" fill="rgb(255,34,0)"/>
<use href="#b10" transform="matrix(0.5333 0 0 0.5333 151.56 136.63)" fill="rgb(255,10,0)"/>
<use href="#b10" transform="matrix(0.5000 0 0 0.5000 162.45 146.32)" fill="rgb(248,0,0)"/>
<use href="#b10" transform="matrix(0.4667 0 0 0.4667 173.34 155.99)" fill="rgb(238,0,0)"/>
<use href="#b10" transform="matrix(0.4333 0 0 0.4333 184.23 165.66)" fill="rgb(227,0,0)"/>
<use href="#b10" transform="matrix(0.4000 0 0 0.4000 195.13 175.33)" fill="rgb(216,0,0)"/>
<use href="#b10" transform="matrix(0.3667 0 0 0.3667 206.04 184.99)" fill="rgb(205,0,0)"/>
<use href="#b10" transform="matrix(0.3333 0 0 0.3333 216.94 194.65)" fill="rgb(194,0,0)"/>
<use href="#b10" transform="matrix(0.3000 0 0 0.3000 227.85 204.30)" fill="rgb(183,0,0)"/>
<use href="#b10" transform="matrix(0.2667 0 0 0.2667 238.76 213.95)" fill="rgb(176,0,0)"/>
<use href="#b10" transform="matrix(0.2333 0 0 0.2333 249.68 223.60)" fill="rgb(168,0,0)"/>
<use href="#b10" transform="matrix(0.2000 0 0 0.2000 260.59 233.25)" fill="rgb(161,0,0)"/>
<use href="#b10" transform="matrix(0.1667 0 0 0.1667 271.51 242.89)" fill="rgb(153,0,0)"/>
<use href="#b10" transform="matrix(0.1333 0 0 0.1333 282.43 252.53)" fill="rgb(148,0,0)"/>
<use href="#b10" transform="matrix(0.1000 0 0 0.1000 293.34 262.18)" fill="rgb(145,0,0)"/>
<use href="#b10" transform="matrix(0.0667 0 0 0.0667 304.26 271.82)" fill="rgb(141,0,0)"/>
<use href="#b10" transform="matrix(0.0333 0 0 0.0333 315.18 281.46)" fill="rgb(138,0,0)"/>
<use href="#b11" transform="matrix(1.0000 0 0 1.0000 0.00 0.00)" fill="rgb(255,255,189)"/>
<use href="#b11" transform="matrix(0.9667 0 0 0.9667 9.83 10.86)" fill="rgb(255,253,100)"/>
<use href="#b11" transform="matrix(0.9333 0 0 0.9333 19.65 21.75)" fill="rgb(255,250,29)"/>
<use href="#b11" transform="matrix(0.9000 0 0 0.9000 29.46 32.66)" fill="rgb(255,243,14)"/>
<use href="#b11" transform="matrix(0.8667 0 0 0.8667 39.26 43.60)" fill="rgb(255,234,7)"/>
<use href="#b11" transform="matrix(0.8333 0 0 0.8333 49.05 54.55)" fill="rgb(255,225,0)"/>
<use href="#b11" transform="matrix(0.8000 0 0 0.8000 58.83 65.52)" fill="rgb(255,206,0)"/>
<use href="#b11" transform="matrix(0.7667 0 0 0.7667 68.60 76.51)" fill="rgb(255,182,0)"/>
<use href="#b11" transform="matrix(0.7333 0 0 0.7333 78.36 87.51)" fill="rgb(255,158,0)"/>
<use href="#b11" transform="matrix(0.7000 0 0 0.7000 88.12 98.54)" fill="rgb(255,135,0)"/>
<use href="#b11" transform="matrix(0.6667 0 0 0.6667 97.86 109.57)" fill="rgb(255,108,0)"/>
<use href="#b11" transform="matrix(0.6333 0 0 0.6333 107.61 120.62)" fill="rgb(255,83,0)"/>
<use href="#b11" transform="matrix(0.6000 0 0 0.6000 117.34 131.69)" fill="rgb(255,59,0)"/>
<use href="#b11" transform="matrix(0.5667 0 0 0.5667 127.07 142.76)" fill="rgb(255,34,0)"/>
<use href="#b11" transform="matrix(0.5333 0 0 0.5333 136.79 153.85)" fill="rgb(255,10,0)"/>
<use href="#b11" transform="matrix(0.5000 0 0 0.5000 146.51 164.94)" fill="rgb(248,0,0)"/>
<use href="#b11" transform="matrix(0.4667 0 0 0.4667 156.23 176.04)" fill="rgb(238,0,0)"/>
<use href="#b11" transform="matrix(0.4333 0 0 0.4333 165.94 187.16)" fill="rgb(227,0,0)"/>
<use href="#b11" transform="matrix(0.4000 0 0 0.4000 175.65 198.27)" fill="rgb(216,0,0)"/>
<use href="#b11" transform="matrix(0.3667 0 0 0.3667 185.35 209.40)" fill="rgb(205,0,0)"/>
<use href="#b11" transform="matrix(0.3333 0 0 0.3333 195.06 220.53)" fill="rgb(194,0,0)"/>
<use href="#b11" transform="matrix(0.3000 0 0 0.3000 204.76 231.67)" fill="rgb(183,0,0)"/>
<use href="#b11" transform="matrix(0.2667 0 0 0.2667 214.45 242.81)" fill="rgb(176,0,0)"/>
<use href="#b11" transform="matrix(0.2333 0 0 0.2333 224.15 253.95)" fill="rgb(168,0,0)"/>
<use href="#b11" transform="matrix(0.2000 0 0 0.2000 233.85 265.09)" fill="rgb(161,0,0)"/>
<use href="#b11" transform="matrix(0.1667 0 0 0.1667 243.54 276.24)" fill="rgb(153,0,0)"/>
<use href="#b11" transform="matrix(0.1333 0 0 0.1333 253.23 287.39)" fill="rgb(148,0,0)"/>
<use href="#b11" transform="matrix(0.1000 0 0 0.1000 262.92 298.54)" fill="rgb(145,0,0)"/>
<use href="#b11" transform="matrix(0.0667 0 0 0.0667 272.62 309.70)" fill="rgb(141,0,0)"/>
<use href="#b11" transform="matrix(0.0333 0 0 0.0333 282.31 320.85)" fill="rgb(138,0,0)"/>
<use href="#b12" transform="matrix(1.0000 0 0 1.0000 0.00 0.00)" fill="rgb(189,255,255)"/>
<use href="#b12" transform="matrix(0.9667 0 0 0.9667 10.45 10.79)" fill="rgb(106,254,255)"/>
<use href="#b12" transform="matrix(0.9333 0 0 0.9333 20.96 21.58)" fill="rgb(41,251,255)"/>
<use href="#b12" transform="matrix(0.9000 0 0 0.9000 31.53 32.39)" fill="rgb(16,245,255)"/>
<use href="#b12" transform="matrix(0.8667 0 0 0.8667 42.15 43.19)" fill="rgb(9,237,255)"/>
<use href="#b12" transform="matrix(0.8333 0 0 0.8333 52.83 54.00)" fill="rgb(3,229,255)"/>
<use href="#b12" transform="matrix(0.8000 0 0 0.8000 63.55 64.82)" fill="rgb(0,214,255)"/>
<use href="#b12" transform="matrix(0.7667 0 0 0.7667 74.32 75.64)" fill="rgb(0,192,255)"/>
<use href="#b12" transform="matrix(0.7333 0 0 0.7333 85.14 86.46)" fill="rgb(0,170,255)"/>
<use href="#b12" transform="matrix(0.7000 0 0 0.7000 95.99 97.29)" fill="rgb(0,149,255)"/>
<use href="#b12" transform="matrix(0.6667 0 0 0.6667 106.89 108.13)" fill="rgb(0,129,255)"/>
<use href="#b12" transform="matrix(0.6333 0 0 0.6333 117.81 118.96)" fill="rgb(0,106,255)"/>
<use href="#b12" transform="matrix(0.6000 0 0 0.6000 128.77 129.80)" fill="rgb(0,84,255)"/>
<use href="#b12" transform="matrix(0.5667 0 0 0.5667 139.76 140.64)" fill="rgb(0,62,255)"/>
<use href="#b12" transform="matrix(0.5333 0 0 0.5333 150.78 151.49)" fill="rgb(0,39,255)"/>
<use href="#b12" transform="matrix(0.5000 0 0 0.5000 161.82 162.33)" fill="rgb(0,24,255)"/>
<use href="#b12" transform="matrix(0.4667 0 0 0.4667 172.89 173.18)" fill="rgb(0,13,255)"/>
<use href="#b12" transform="matrix(0.4333 0 0 0.4333 183.97 184.03)" fill="rgb(0,2,255)"/>
<use href="#b12" transform="matrix(0.4000 0 0 0.4000 195.08 194.89)" fill="rgb(0,0,247)"/>
<use href="#b12" transform="matrix(0.3667 0 0 0.3667 206.20 205.74)" fill="rgb(0,0,237)"/>
<use href="#b12" transform="matrix(0.3333 0 0 0.3333 217.33 216.60)" fill="rgb(0,0,227)"/>
<use href="#b12" transform="matrix(0.3000 0 0 0.3000 228.48 227.46)" fill="rgb(0,0,217)"/>
<use href="#b12" transform="matrix(0.2667 0 0 0.2667 239.64 238.31)" fill="rgb(0,0,211)"/>
<use href="#b12" transform="matrix(0.2333 0 0 0.2333 250.80 249.17)" fill="rgb(0,0,204)"/>
<use href="#b12" transform="matrix(0.2000 0 0 0.2000 261.98 260.03)" fill="rgb(0,0,197)"/>
<use href="#b12" transform="matrix(0.1667 0 0 0.1667 273.16 270.89)" fill="rgb(0,0,190)"/>
<use href="#b12" transform="matrix(0.1333 0 0 0.1333 284.34 281.75)" fill="rgb(0,0,185)"/>
<use href="#b12" transform="matrix(0.1000 0 0 0.1000 295.53 292.62)" fill="rgb(0,0,182)"/>
<use href="#b12" transform="matrix(0.0667 0 0 0.0667 306.72 303.48)" fill="rgb(0,0,179)"/>
<use href="#b12" transform="matrix(0.0333 0 0 0.0333 317.91 314.34)" fill="rgb(0,0,176)"/>
</g>
<g transform="translate(57,43)" clip-path="url(#clip00)">
<path d="M-3.0,56.5C-2.5,56.9 -2.5,57.0 0.0,59.0C2.5,61.0 8.2,65.5 12.0,68.5C15.8,71.5 19.5,74.7 23.0,77.2C26.5,79.7 28.9,81.5 33.0,83.4C37.1,85.3 42.8,87.6 47.7,88.8C52.6,90.0 57.6,90.8 62.5,90.8C67.4,90.8 72.4,90.0 77.3,88.8C82.2,87.6 87.1,85.5 92.1,83.4C97.0,81.3 102.0,78.9 107.0,76.0C112.0,73.1 117.1,69.4 121.8,66.1C126.5,62.8 130.5,59.6 135.0,56.2C139.5,52.9 146.2,48.1 149.0,46.0C151.8,43.9 151.5,44.2 152.0,43.8" fill="none" stroke="#0000ee" stroke-width="2"/>
<path d="M26.0,78.4C25.8,74.9 26.3,71.5 27.9,68.6C29.4,65.7 31.6,63.3 35.3,61.2C39.0,59.1 44.9,57.4 50.2,56.2C55.6,55.0 61.2,54.7 67.4,54.2C73.6,53.7 81.4,53.4 87.2,53.3C93.0,53.1 97.5,52.8 102.0,53.3C106.5,53.8 111.2,54.3 114.4,56.2C117.6,58.1 120.3,61.8 121.3,64.9C122.3,68.0 121.5,71.2 120.5,74.7C119.5,78.2 117.8,82.2 115.6,85.9C113.3,89.6 110.5,93.3 107.0,97.0C103.5,100.7 98.9,104.8 94.6,108.1C90.3,111.4 85.5,114.7 81.0,116.7C76.5,118.8 71.7,120.2 67.4,120.4C63.1,120.6 59.0,119.7 55.1,118.0C51.2,116.3 47.3,113.4 44.0,110.5C40.7,107.6 37.8,104.2 35.3,100.7C32.8,97.2 30.8,93.3 29.2,89.6C27.6,85.9 26.2,81.9 26.0,78.4Z" fill="none" stroke="#111" stroke-width="1.2"/>
</g>
<rect x="57.2" y="43.0" width="148.70" height="148.60" fill="none" stroke="#222" stroke-width="1.45"/>
<line x1="106.8" y1="191.6" x2="106.8" y2="189.79999999999998" stroke="#222" stroke-width="1"/>
<line x1="106.8" y1="43.0" x2="106.8" y2="44.8" stroke="#222" stroke-width="1"/>
<line x1="156.3" y1="191.6" x2="156.3" y2="189.79999999999998" stroke="#222" stroke-width="1"/>
<line x1="156.3" y1="43.0" x2="156.3" y2="44.8" stroke="#222" stroke-width="1"/>
<line x1="57.2" y1="117.3" x2="59.0" y2="117.3" stroke="#222" stroke-width="1"/>
<line x1="205.9" y1="117.3" x2="204.1" y2="117.3" stroke="#222" stroke-width="1"/>
<g transform="translate(57,226)" clip-path="url(#clip01)">
<path d="M-3.0,56.5C-2.5,56.9 -2.5,57.0 0.0,59.0C2.5,61.0 8.2,65.5 12.0,68.5C15.8,71.5 19.5,74.7 23.0,77.2C26.5,79.7 28.9,81.5 33.0,83.4C37.1,85.3 42.8,87.6 47.7,88.8C52.6,90.0 57.6,90.8 62.5,90.8C67.4,90.8 72.4,90.0 77.3,88.8C82.2,87.6 87.1,85.5 92.1,83.4C97.0,81.3 102.0,78.9 107.0,76.0C112.0,73.1 117.1,69.4 121.8,66.1C126.5,62.8 130.5,59.6 135.0,56.2C139.5,52.9 146.2,48.1 149.0,46.0C151.8,43.9 151.5,44.2 152.0,43.8" fill="none" stroke="#0000ee" stroke-width="2"/>
<path d="M26.0,78.4C25.8,74.9 26.3,71.5 27.9,68.6C29.4,65.7 31.6,63.3 35.3,61.2C39.0,59.1 44.9,57.4 50.2,56.2C55.6,55.0 61.2,54.7 67.4,54.2C73.6,53.7 81.4,53.4 87.2,53.3C93.0,53.1 97.5,52.8 102.0,53.3C106.5,53.8 111.2,54.3 114.4,56.2C117.6,58.1 120.3,61.8 121.3,64.9C122.3,68.0 121.5,71.2 120.5,74.7C119.5,78.2 117.8,82.2 115.6,85.9C113.3,89.6 110.5,93.3 107.0,97.0C103.5,100.7 98.9,104.8 94.6,108.1C90.3,111.4 85.5,114.7 81.0,116.7C76.5,118.8 71.7,120.2 67.4,120.4C63.1,120.6 59.0,119.7 55.1,118.0C51.2,116.3 47.3,113.4 44.0,110.5C40.7,107.6 37.8,104.2 35.3,100.7C32.8,97.2 30.8,93.3 29.2,89.6C27.6,85.9 26.2,81.9 26.0,78.4Z" fill="none" stroke="#111" stroke-width="1.2"/>
</g>
<rect x="57.2" y="226.0" width="148.70" height="148.90" fill="none" stroke="#222" stroke-width="1.45"/>
<line x1="106.8" y1="374.9" x2="106.8" y2="373.09999999999997" stroke="#222" stroke-width="1"/>
<line x1="106.8" y1="226.0" x2="106.8" y2="227.8" stroke="#222" stroke-width="1"/>
<line x1="156.3" y1="374.9" x2="156.3" y2="373.09999999999997" stroke="#222" stroke-width="1"/>
<line x1="156.3" y1="226.0" x2="156.3" y2="227.8" stroke="#222" stroke-width="1"/>
<line x1="57.2" y1="300.4" x2="59.0" y2="300.4" stroke="#222" stroke-width="1"/>
<line x1="205.9" y1="300.4" x2="204.1" y2="300.4" stroke="#222" stroke-width="1"/>
<g transform="translate(240,43)" clip-path="url(#clip10)">
<path d="M-3.0,56.5C-2.5,56.9 -2.5,57.0 0.0,59.0C2.5,61.0 8.2,65.5 12.0,68.5C15.8,71.5 19.5,74.7 23.0,77.2C26.5,79.7 28.9,81.5 33.0,83.4C37.1,85.3 42.8,87.6 47.7,88.8C52.6,90.0 57.6,90.8 62.5,90.8C67.4,90.8 72.4,90.0 77.3,88.8C82.2,87.6 87.1,85.5 92.1,83.4C97.0,81.3 102.0,78.9 107.0,76.0C112.0,73.1 117.1,69.4 121.8,66.1C126.5,62.8 130.5,59.6 135.0,56.2C139.5,52.9 146.2,48.1 149.0,46.0C151.8,43.9 151.5,44.2 152.0,43.8" fill="none" stroke="#0000ee" stroke-width="2"/>
<path d="M18.9,76.0C18.8,72.7 19.5,70.1 20.9,67.5C22.3,64.9 24.5,62.6 27.5,60.5C30.5,58.4 33.9,56.3 38.7,54.8C43.5,53.3 50.1,52.3 56.5,51.3C62.9,50.3 69.8,49.7 77.2,49.0C84.6,48.3 94.0,47.4 100.9,47.2C107.8,47.0 114.0,46.7 118.7,47.8C123.4,48.9 127.0,51.0 129.1,53.6C131.2,56.2 131.8,59.5 131.5,63.6C131.2,67.7 129.7,73.5 127.6,78.4C125.5,83.4 122.2,88.6 118.7,93.3C115.2,98.0 111.4,102.6 106.9,106.6C102.5,110.5 97.0,114.3 92.0,117.0C87.0,119.7 81.9,121.7 77.2,122.9C72.5,124.1 68.3,124.9 63.9,124.4C59.5,123.9 54.8,122.1 50.6,119.9C46.4,117.7 42.4,114.5 38.7,111.0C35.0,107.5 31.2,103.2 28.3,99.2C25.4,95.2 23.1,91.2 21.5,87.3C19.9,83.4 19.0,79.3 18.9,76.0Z" fill="none" stroke="#111" stroke-width="1.2"/>
</g>
<rect x="240.6" y="43.0" width="148.40" height="148.60" fill="none" stroke="#222" stroke-width="1.45"/>
<line x1="290.1" y1="191.6" x2="290.1" y2="189.79999999999998" stroke="#222" stroke-width="1"/>
<line x1="290.1" y1="43.0" x2="290.1" y2="44.8" stroke="#222" stroke-width="1"/>
<line x1="339.5" y1="191.6" x2="339.5" y2="189.79999999999998" stroke="#222" stroke-width="1"/>
<line x1="339.5" y1="43.0" x2="339.5" y2="44.8" stroke="#222" stroke-width="1"/>
<line x1="240.6" y1="117.3" x2="242.4" y2="117.3" stroke="#222" stroke-width="1"/>
<line x1="389.0" y1="117.3" x2="387.2" y2="117.3" stroke="#222" stroke-width="1"/>
<g transform="translate(240,226)" clip-path="url(#clip11)">
<path d="M-3.0,56.5C-2.5,56.9 -2.5,57.0 0.0,59.0C2.5,61.0 8.2,65.5 12.0,68.5C15.8,71.5 19.5,74.7 23.0,77.2C26.5,79.7 28.9,81.5 33.0,83.4C37.1,85.3 42.8,87.6 47.7,88.8C52.6,90.0 57.6,90.8 62.5,90.8C67.4,90.8 72.4,90.0 77.3,88.8C82.2,87.6 87.1,85.5 92.1,83.4C97.0,81.3 102.0,78.9 107.0,76.0C112.0,73.1 117.1,69.4 121.8,66.1C126.5,62.8 130.5,59.6 135.0,56.2C139.5,52.9 146.2,48.1 149.0,46.0C151.8,43.9 151.5,44.2 152.0,43.8" fill="none" stroke="#0000ee" stroke-width="2"/>
<path d="M18.9,76.0C18.8,72.7 19.5,70.1 20.9,67.5C22.3,64.9 24.5,62.6 27.5,60.5C30.5,58.4 33.9,56.3 38.7,54.8C43.5,53.3 50.1,52.3 56.5,51.3C62.9,50.3 69.8,49.7 77.2,49.0C84.6,48.3 94.0,47.4 100.9,47.2C107.8,47.0 114.0,46.7 118.7,47.8C123.4,48.9 127.0,51.0 129.1,53.6C131.2,56.2 131.8,59.5 131.5,63.6C131.2,67.7 129.7,73.5 127.6,78.4C125.5,83.4 122.2,88.6 118.7,93.3C115.2,98.0 111.4,102.6 106.9,106.6C102.5,110.5 97.0,114.3 92.0,117.0C87.0,119.7 81.9,121.7 77.2,122.9C72.5,124.1 68.3,124.9 63.9,124.4C59.5,123.9 54.8,122.1 50.6,119.9C46.4,117.7 42.4,114.5 38.7,111.0C35.0,107.5 31.2,103.2 28.3,99.2C25.4,95.2 23.1,91.2 21.5,87.3C19.9,83.4 19.0,79.3 18.9,76.0Z" fill="none" stroke="#111" stroke-width="1.2"/>
</g>
<rect x="240.6" y="226.0" width="148.40" height="148.90" fill="none" stroke="#222" stroke-width="1.45"/>
<line x1="290.1" y1="374.9" x2="290.1" y2="373.09999999999997" stroke="#222" stroke-width="1"/>
<line x1="290.1" y1="226.0" x2="290.1" y2="227.8" stroke="#222" stroke-width="1"/>
<line x1="339.5" y1="374.9" x2="339.5" y2="373.09999999999997" stroke="#222" stroke-width="1"/>
<line x1="339.5" y1="226.0" x2="339.5" y2="227.8" stroke="#222" stroke-width="1"/>
<line x1="240.6" y1="300.4" x2="242.4" y2="300.4" stroke="#222" stroke-width="1"/>
<line x1="389.0" y1="300.4" x2="387.2" y2="300.4" stroke="#222" stroke-width="1"/>
</svg>
<div class="t title" style="left:131.3px;top:32.6px;transform-origin:50% 100%;transform:translate(-50%,-100%) scaleX(1.0);">ξ = 0.17 π rad</div>
<div class="t title" style="left:314.3px;top:32.6px;transform-origin:50% 100%;transform:translate(-50%,-100%) scaleX(1.0);">ξ = 0.23 π rad</div>
<div class="t lab" style="left:131.8px;top:68.6px;transform-origin:50% 100%;transform:translate(-50%,-100%) scaleX(0.952);">−sin(−ξ)<span class="bar"></span><span class="dg">3</span><svg class="ket" width="4.5" height="14.4" viewBox="0 0 4.5 14.4"><path d="M0.6,0.3 L3.8,7.2 L0.6,14.1" fill="none" stroke="#000" stroke-width="1.15"/></svg> + cos(−ξ)<span class="bar"></span><span class="dg">4</span><svg class="ket" width="4.5" height="14.4" viewBox="0 0 4.5 14.4"><path d="M0.6,0.3 L3.8,7.2 L0.6,14.1" fill="none" stroke="#000" stroke-width="1.15"/></svg></div>
<div class="t lab" style="left:314.8px;top:68.6px;transform-origin:50% 100%;transform:translate(-50%,-100%) scaleX(0.952);">−sin(−ξ)<span class="bar"></span><span class="dg">5</span><svg class="ket" width="4.5" height="14.4" viewBox="0 0 4.5 14.4"><path d="M0.6,0.3 L3.8,7.2 L0.6,14.1" fill="none" stroke="#000" stroke-width="1.15"/></svg> + cos(−ξ)<span class="bar"></span><span class="dg">6</span><svg class="ket" width="4.5" height="14.4" viewBox="0 0 4.5 14.4"><path d="M0.6,0.3 L3.8,7.2 L0.6,14.1" fill="none" stroke="#000" stroke-width="1.15"/></svg></div>
<div class="t lab" style="left:131.8px;top:251.6px;transform-origin:50% 100%;transform:translate(-50%,-100%) scaleX(0.952);">cos(−ξ)<span class="bar"></span><span class="dg">3</span><svg class="ket" width="4.5" height="14.4" viewBox="0 0 4.5 14.4"><path d="M0.6,0.3 L3.8,7.2 L0.6,14.1" fill="none" stroke="#000" stroke-width="1.15"/></svg> + sin(−ξ)<span class="bar"></span><span class="dg">4</span><svg class="ket" width="4.5" height="14.4" viewBox="0 0 4.5 14.4"><path d="M0.6,0.3 L3.8,7.2 L0.6,14.1" fill="none" stroke="#000" stroke-width="1.15"/></svg></div>
<div class="t lab" style="left:314.8px;top:251.6px;transform-origin:50% 100%;transform:translate(-50%,-100%) scaleX(0.952);">cos(−ξ)<span class="bar"></span><span class="dg">5</span><svg class="ket" width="4.5" height="14.4" viewBox="0 0 4.5 14.4"><path d="M0.6,0.3 L3.8,7.2 L0.6,14.1" fill="none" stroke="#000" stroke-width="1.15"/></svg> + sin(−ξ)<span class="bar"></span><span class="dg">6</span><svg class="ket" width="4.5" height="14.4" viewBox="0 0 4.5 14.4"><path d="M0.6,0.3 L3.8,7.2 L0.6,14.1" fill="none" stroke="#000" stroke-width="1.15"/></svg></div>
<div class="t mode" style="left:132px;top:189.0px;transform-origin:50% 100%;transform:translate(-50%,-100%) scaleX(1.0);">(0,2)</div>
<div class="t mode" style="left:315px;top:189.0px;transform-origin:50% 100%;transform:translate(-50%,-100%) scaleX(1.0);">(0,3)</div>
<div class="t mode" style="left:132px;top:372.0px;transform-origin:50% 100%;transform:translate(-50%,-100%) scaleX(1.0);">(1,0)</div>
<div class="t mode" style="left:315px;top:372.0px;transform-origin:50% 100%;transform:translate(-50%,-100%) scaleX(1.0);">(1,1)</div>
<div class="t tick" style="left:52.5px;top:53.5px;transform-origin:100% 100%;transform:translate(-100%,-100%) scaleX(0.93);">5.5</div>
<div class="t tick" style="left:52.5px;top:127.0px;transform-origin:100% 100%;transform:translate(-100%,-100%) scaleX(0.93);">5.0</div>
<div class="t tick" style="left:52.5px;top:202px;transform-origin:100% 100%;transform:translate(-100%,-100%) scaleX(0.93);">4.5</div>
<div class="t tick" style="left:52.5px;top:236.5px;transform-origin:100% 100%;transform:translate(-100%,-100%) scaleX(0.93);">5.5</div>
<div class="t tick" style="left:52.5px;top:310.0px;transform-origin:100% 100%;transform:translate(-100%,-100%) scaleX(0.93);">5.0</div>
<div class="t tick" style="left:52.5px;top:385px;transform-origin:100% 100%;transform:translate(-100%,-100%) scaleX(0.93);">4.5</div>
<div class="t tick" style="left:56.800000000000004px;top:398.9px;transform-origin:50% 100%;transform:translate(-50%,-100%) scaleX(0.93);">0.4</div>
<div class="t tick" style="left:106.36666666666666px;top:398.9px;transform-origin:50% 100%;transform:translate(-50%,-100%) scaleX(0.93);">0.5</div>
<div class="t tick" style="left:155.9333333333333px;top:398.9px;transform-origin:50% 100%;transform:translate(-50%,-100%) scaleX(0.93);">0.6</div>
<div class="t tick" style="left:205.49999999999997px;top:398.9px;transform-origin:50% 100%;transform:translate(-50%,-100%) scaleX(0.93);">0.7</div>
<div class="t axl" style="left:132.2px;top:419.8px;transform-origin:50% 100%;transform:translate(-50%,-100%) scaleX(1.0);">θ (π rad)</div>
<div class="t tick" style="left:240.2px;top:398.9px;transform-origin:50% 100%;transform:translate(-50%,-100%) scaleX(0.93);">0.4</div>
<div class="t tick" style="left:289.6666666666667px;top:398.9px;transform-origin:50% 100%;transform:translate(-50%,-100%) scaleX(0.93);">0.5</div>
<div class="t tick" style="left:339.1333333333333px;top:398.9px;transform-origin:50% 100%;transform:translate(-50%,-100%) scaleX(0.93);">0.6</div>
<div class="t tick" style="left:388.6px;top:398.9px;transform-origin:50% 100%;transform:translate(-50%,-100%) scaleX(0.93);">0.7</div>
<div class="t axl" style="left:315.2px;top:419.8px;transform-origin:50% 100%;transform:translate(-50%,-100%) scaleX(1.0);">θ (π rad)</div>
<div class="t axl" style="left:14.8px;top:118.0px;transform:translate(-50%,-50%) rotate(-90deg);"><i>R</i> (a.u.)</div>
<div class="t axl" style="left:14.8px;top:301.0px;transform:translate(-50%,-50%) rotate(-90deg);"><i>R</i> (a.u.)</div>
<div id="bline"></div>
</body></html>
